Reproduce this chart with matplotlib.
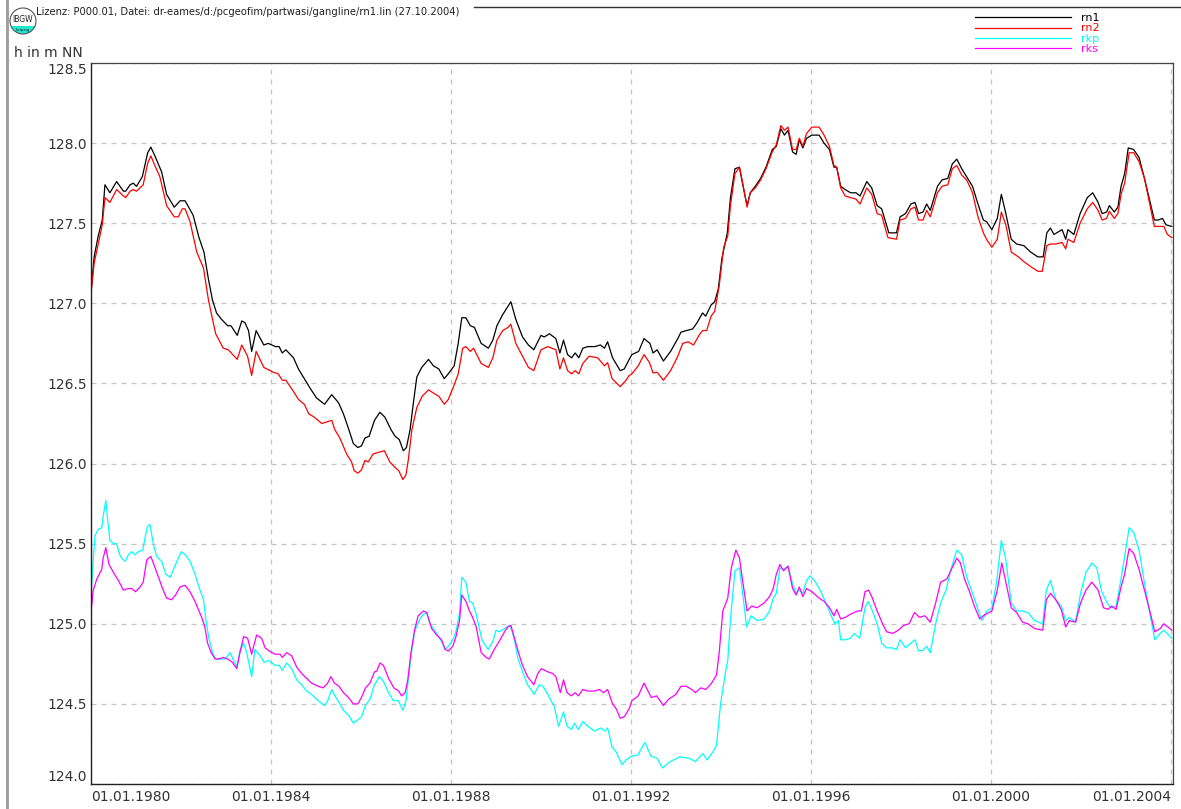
import matplotlib
matplotlib.use("Agg")
import matplotlib.pyplot as plt
from matplotlib.patches import Ellipse, Rectangle
from matplotlib.lines import Line2D

# ---------------- data ----------------
rn1_t = [1980.00, 1980.07, 1980.16, 1980.25, 1980.31, 1980.42, 1980.57, 1980.72, 1980.77, 1980.87,
         1980.94, 1981.01, 1981.14, 1981.26, 1981.33, 1981.42, 1981.57, 1981.68, 1981.85, 1981.98,
         1982.09, 1982.27, 1982.40, 1982.51, 1982.61, 1982.70, 1982.79, 1982.90, 1983.04, 1983.11,
         1983.25, 1983.35, 1983.42, 1983.50, 1983.57, 1983.67, 1983.84, 1983.94, 1984.10, 1984.18,
         1984.25, 1984.33, 1984.50, 1984.61, 1984.74, 1984.87, 1985.01, 1985.19, 1985.35, 1985.50,
         1985.61, 1985.72, 1985.83, 1985.93, 1986.01, 1986.09, 1986.18, 1986.30, 1986.42, 1986.53,
         1986.67, 1986.76, 1986.85, 1986.94, 1987.01, 1987.09, 1987.16, 1987.24, 1987.35, 1987.50,
         1987.61, 1987.73, 1987.85, 1987.94, 1988.07, 1988.16, 1988.24, 1988.33, 1988.43, 1988.52,
         1988.67, 1988.83, 1988.93, 1989.02, 1989.15, 1989.24, 1989.33, 1989.44, 1989.59, 1989.72,
         1989.84, 1990.00, 1990.07, 1990.19, 1990.33, 1990.42, 1990.50, 1990.59, 1990.68, 1990.76,
         1990.84, 1990.93, 1991.04, 1991.19, 1991.32, 1991.41, 1991.48, 1991.59, 1991.76, 1991.85,
         1991.96, 1992.02, 1992.17, 1992.29, 1992.42, 1992.49, 1992.58, 1992.72, 1992.88, 1993.04,
         1993.11, 1993.23, 1993.37, 1993.47, 1993.59, 1993.66, 1993.78, 1993.86, 1993.94, 1994.02,
         1994.14, 1994.21, 1994.31, 1994.41, 1994.49, 1994.58, 1994.65, 1994.76, 1994.88, 1995.00,
         1995.14, 1995.23, 1995.33, 1995.41, 1995.49, 1995.59, 1995.67, 1995.74, 1995.82, 1995.90,
         1996.02, 1996.18, 1996.29, 1996.41, 1996.51, 1996.57, 1996.66, 1996.76, 1996.88, 1997.00,
         1997.09, 1997.24, 1997.35, 1997.47, 1997.57, 1997.73, 1997.90, 1997.98, 1998.10, 1998.22,
         1998.31, 1998.39, 1998.49, 1998.57, 1998.65, 1998.81, 1998.91, 1999.04, 1999.14, 1999.24,
         1999.35, 1999.46, 1999.59, 1999.71, 1999.83, 1999.90, 2000.02, 2000.14, 2000.23, 2000.33,
         2000.45, 2000.57, 2000.73, 2000.88, 2001.04, 2001.16, 2001.24, 2001.32, 2001.40, 2001.58,
         2001.66, 2001.71, 2001.84, 2001.98, 2002.14, 2002.26, 2002.38, 2002.47, 2002.57, 2002.63,
         2002.74, 2002.82, 2002.89, 2002.97, 2003.05, 2003.17, 2003.29, 2003.41, 2003.52, 2003.63,
         2003.72, 2003.81, 2003.89, 2004.02]
rn1_v = [127.07, 127.29, 127.42, 127.52, 127.74, 127.69, 127.76, 127.70, 127.70, 127.74,
         127.75, 127.73, 127.79, 127.94, 127.975, 127.92, 127.82, 127.68, 127.60, 127.64,
         127.64, 127.55, 127.41, 127.32, 127.15, 127.02, 126.94, 126.90, 126.86, 126.86,
         126.80, 126.89, 126.88, 126.83, 126.70, 126.83, 126.74, 126.75, 126.73, 126.73,
         126.69, 126.71, 126.66, 126.59, 126.53, 126.47, 126.41, 126.37, 126.43, 126.38,
         126.31, 126.22, 126.125, 126.10, 126.11, 126.16, 126.17, 126.27, 126.32, 126.29,
         126.21, 126.17, 126.15, 126.08, 126.10, 126.21, 126.37, 126.54, 126.60, 126.65,
         126.61, 126.59, 126.53, 126.56, 126.61, 126.75, 126.91, 126.91, 126.86, 126.85,
         126.75, 126.72, 126.77, 126.86, 126.93, 126.97, 127.01, 126.90, 126.79, 126.74,
         126.71, 126.80, 126.79, 126.81, 126.78, 126.69, 126.77, 126.68, 126.66, 126.69,
         126.66, 126.72, 126.73, 126.73, 126.74, 126.72, 126.76, 126.66, 126.58, 126.59,
         126.65, 126.68, 126.70, 126.78, 126.75, 126.69, 126.71, 126.64, 126.70, 126.78,
         126.82, 126.83, 126.84, 126.88, 126.94, 126.92, 126.99, 127.01, 127.09, 127.28,
         127.44, 127.66, 127.84, 127.85, 127.73, 127.61, 127.69, 127.73, 127.78, 127.85,
         127.96, 127.98, 128.09, 128.05, 128.08, 127.945, 127.93, 128.02, 127.97, 128.03,
         128.05, 128.05, 128.00, 127.96, 127.85, 127.85, 127.73, 127.71, 127.69, 127.69,
         127.67, 127.76, 127.72, 127.61, 127.59, 127.44, 127.44, 127.54, 127.56, 127.62,
         127.63, 127.56, 127.57, 127.62, 127.58, 127.73, 127.77, 127.78, 127.87, 127.90,
         127.84, 127.79, 127.73, 127.62, 127.52, 127.51, 127.46, 127.53, 127.68, 127.56,
         127.40, 127.37, 127.36, 127.32, 127.29, 127.29, 127.44, 127.47, 127.43, 127.46,
         127.40, 127.46, 127.43, 127.56, 127.66, 127.69, 127.63, 127.56, 127.57, 127.61,
         127.57, 127.60, 127.73, 127.81, 127.97, 127.96, 127.91, 127.78, 127.65, 127.52,
         127.52, 127.53, 127.49, 127.48]

rn2_t = [1980.00, 1980.07, 1980.16, 1980.25, 1980.31, 1980.42, 1980.57, 1980.72, 1980.77, 1980.87,
         1980.94, 1981.01, 1981.16, 1981.26, 1981.33, 1981.42, 1981.53, 1981.68, 1981.85, 1981.94,
         1982.03, 1982.09, 1982.20, 1982.35, 1982.50, 1982.61, 1982.77, 1982.94, 1983.05, 1983.25,
         1983.35, 1983.48, 1983.57, 1983.67, 1983.84, 1984.05, 1984.16, 1984.25, 1984.33, 1984.50,
         1984.61, 1984.74, 1984.84, 1984.96, 1985.13, 1985.24, 1985.35, 1985.42, 1985.53, 1985.68,
         1985.79, 1985.85, 1985.93, 1986.01, 1986.09, 1986.16, 1986.27, 1986.39, 1986.52, 1986.64,
         1986.76, 1986.84, 1986.93, 1987.00, 1987.05, 1987.13, 1987.24, 1987.36, 1987.50, 1987.61,
         1987.73, 1987.85, 1987.94, 1988.07, 1988.16, 1988.26, 1988.33, 1988.43, 1988.50, 1988.67,
         1988.83, 1988.93, 1989.02, 1989.15, 1989.27, 1989.33, 1989.44, 1989.59, 1989.72, 1989.84,
         1990.00, 1990.15, 1990.33, 1990.42, 1990.50, 1990.59, 1990.68, 1990.76, 1990.84, 1990.93,
         1991.07, 1991.26, 1991.41, 1991.48, 1991.58, 1991.76, 1991.89, 1991.96, 1992.02, 1992.16,
         1992.29, 1992.41, 1992.49, 1992.58, 1992.72, 1992.88, 1993.04, 1993.15, 1993.27, 1993.39,
         1993.51, 1993.59, 1993.68, 1993.78, 1993.86, 1993.96, 1994.06, 1994.15, 1994.21, 1994.31,
         1994.41, 1994.49, 1994.58, 1994.65, 1994.76, 1994.88, 1995.00, 1995.14, 1995.23, 1995.33,
         1995.41, 1995.49, 1995.59, 1995.67, 1995.74, 1995.82, 1995.90, 1996.02, 1996.18, 1996.29,
         1996.41, 1996.51, 1996.57, 1996.66, 1996.76, 1996.88, 1997.00, 1997.09, 1997.24, 1997.35,
         1997.47, 1997.57, 1997.71, 1997.90, 1997.98, 1998.10, 1998.22, 1998.31, 1998.39, 1998.49,
         1998.57, 1998.65, 1998.81, 1998.91, 1999.04, 1999.14, 1999.24, 1999.35, 1999.46, 1999.59,
         1999.71, 1999.83, 1999.90, 2000.02, 2000.14, 2000.23, 2000.33, 2000.45, 2000.61, 2000.73,
         2000.88, 2001.04, 2001.14, 2001.24, 2001.32, 2001.44, 2001.58, 2001.66, 2001.71, 2001.84,
         2001.98, 2002.14, 2002.26, 2002.38, 2002.47, 2002.57, 2002.63, 2002.74, 2002.82, 2002.89,
         2002.97, 2003.07, 2003.17, 2003.29, 2003.41, 2003.52, 2003.63, 2003.72, 2003.84, 2003.92,
         2004.02]
rn2_v = [127.06, 127.25, 127.37, 127.49, 127.66, 127.63, 127.71, 127.67, 127.66, 127.70,
         127.71, 127.70, 127.74, 127.875, 127.92, 127.86, 127.79, 127.61, 127.54, 127.54,
         127.59, 127.59, 127.51, 127.32, 127.22, 127.02, 126.81, 126.72, 126.71, 126.65,
         126.74, 126.67, 126.55, 126.70, 126.60, 126.57, 126.56, 126.52, 126.52, 126.45,
         126.40, 126.37, 126.31, 126.29, 126.25, 126.26, 126.27, 126.21, 126.16, 126.06,
         126.01, 125.955, 125.94, 125.96, 126.02, 126.01, 126.06, 126.07, 126.08, 126.01,
         125.975, 125.955, 125.90, 125.93, 126.02, 126.21, 126.35, 126.42, 126.46, 126.44,
         126.42, 126.37, 126.40, 126.49, 126.56, 126.72, 126.73, 126.70, 126.72, 126.625,
         126.60, 126.66, 126.77, 126.83, 126.85, 126.87, 126.75, 126.67, 126.60, 126.58,
         126.71, 126.73, 126.71, 126.59, 126.66, 126.58, 126.56, 126.58, 126.56, 126.625,
         126.67, 126.66, 126.61, 126.63, 126.53, 126.48, 126.52, 126.55, 126.56, 126.61,
         126.68, 126.63, 126.565, 126.57, 126.52, 126.58, 126.67, 126.75, 126.76, 126.74,
         126.80, 126.83, 126.83, 126.92, 126.95, 127.11, 127.35, 127.42, 127.61, 127.81,
         127.85, 127.74, 127.60, 127.69, 127.72, 127.77, 127.84, 127.945, 127.99, 128.11,
         128.08, 128.10, 127.96, 127.96, 128.03, 127.98, 128.06, 128.10, 128.10, 128.05,
         127.98, 127.86, 127.85, 127.72, 127.67, 127.66, 127.65, 127.62, 127.72, 127.68,
         127.56, 127.55, 127.41, 127.40, 127.52, 127.53, 127.59, 127.60, 127.52, 127.52,
         127.58, 127.54, 127.69, 127.73, 127.74, 127.84, 127.86, 127.80, 127.77, 127.69,
         127.54, 127.44, 127.40, 127.35, 127.40, 127.57, 127.49, 127.32, 127.29, 127.26,
         127.23, 127.20, 127.20, 127.36, 127.37, 127.37, 127.38, 127.34, 127.40, 127.38,
         127.50, 127.59, 127.63, 127.58, 127.52, 127.53, 127.575, 127.53, 127.56, 127.68,
         127.75, 127.94, 127.94, 127.885, 127.78, 127.63, 127.48, 127.48, 127.48, 127.43,
         127.41]

rkp_t = [1980.00, 1980.04, 1980.09, 1980.16, 1980.24, 1980.27, 1980.33, 1980.37, 1980.42, 1980.50,
         1980.57, 1980.64, 1980.68, 1980.76, 1980.83, 1980.90, 1980.98, 1981.05, 1981.15, 1981.21,
         1981.26, 1981.31, 1981.39, 1981.46, 1981.57, 1981.66, 1981.76, 1981.85, 1981.94, 1982.01,
         1982.10, 1982.20, 1982.31, 1982.41, 1982.50, 1982.55, 1982.62, 1982.70, 1982.77, 1982.87,
         1982.98, 1983.09, 1983.19, 1983.24, 1983.31, 1983.39, 1983.46, 1983.57, 1983.64, 1983.76,
         1983.85, 1983.94, 1984.10, 1984.18, 1984.25, 1984.35, 1984.46, 1984.57, 1984.68, 1984.79,
         1984.90, 1985.05, 1985.19, 1985.26, 1985.35, 1985.42, 1985.51, 1985.61, 1985.72, 1985.83,
         1985.93, 1986.01, 1986.10, 1986.20, 1986.30, 1986.41, 1986.50, 1986.61, 1986.72, 1986.83,
         1986.93, 1987.00, 1987.05, 1987.13, 1987.20, 1987.31, 1987.39, 1987.46, 1987.53, 1987.61,
         1987.68, 1987.79, 1987.87, 1987.94, 1988.04, 1988.11, 1988.19, 1988.24, 1988.33, 1988.41,
         1988.48, 1988.56, 1988.63, 1988.70, 1988.83, 1988.93, 1989.00, 1989.07, 1989.19, 1989.32,
         1989.41, 1989.48, 1989.59, 1989.70, 1989.85, 1989.96, 1990.04, 1990.15, 1990.30, 1990.39,
         1990.50, 1990.58, 1990.68, 1990.74, 1990.83, 1990.93, 1991.04, 1991.19, 1991.33, 1991.42,
         1991.48, 1991.58, 1991.67, 1991.80, 1991.89, 1992.02, 1992.15, 1992.31, 1992.44, 1992.58,
         1992.70, 1992.87, 1993.09, 1993.30, 1993.43, 1993.60, 1993.69, 1993.82, 1993.90, 1993.99,
         1994.10, 1994.15, 1994.21, 1994.31, 1994.41, 1994.49, 1994.57, 1994.67, 1994.80, 1994.96,
         1995.08, 1995.16, 1995.23, 1995.31, 1995.39, 1995.49, 1995.59, 1995.67, 1995.74, 1995.82,
         1995.90, 1995.98, 1996.10, 1996.22, 1996.33, 1996.45, 1996.53, 1996.61, 1996.66, 1996.76,
         1996.88, 1996.96, 1997.08, 1997.20, 1997.27, 1997.35, 1997.47, 1997.57, 1997.67, 1997.79,
         1997.90, 1997.98, 1998.10, 1998.22, 1998.31, 1998.39, 1998.49, 1998.57, 1998.65, 1998.77,
         1998.88, 1999.00, 1999.12, 1999.24, 1999.35, 1999.46, 1999.59, 1999.71, 1999.80, 1999.91,
         2000.02, 2000.12, 2000.23, 2000.33, 2000.45, 2000.57, 2000.70, 2000.82, 2000.97, 2001.15,
         2001.23, 2001.32, 2001.44, 2001.56, 2001.66, 2001.74, 2001.88, 2001.99, 2002.11, 2002.24,
         2002.35, 2002.46, 2002.58, 2002.66, 2002.78, 2002.89, 2002.97, 2003.07, 2003.17, 2003.29,
         2003.40, 2003.52, 2003.64, 2003.76, 2003.84, 2004.02]
rkp_v = [125.18, 125.36, 125.55, 125.59, 125.60, 125.67, 125.77, 125.65, 125.52, 125.50,
         125.50, 125.43, 125.41, 125.39, 125.43, 125.45, 125.43, 125.45, 125.46, 125.55,
         125.61, 125.62, 125.49, 125.42, 125.39, 125.31, 125.29, 125.35, 125.41, 125.45,
         125.43, 125.39, 125.31, 125.22, 125.15, 125.03, 124.91, 124.82, 124.78, 124.78,
         124.78, 124.82, 124.76, 124.73, 124.83, 124.88, 124.82, 124.67, 124.84, 124.80,
         124.76, 124.77, 124.74, 124.74, 124.71, 124.755, 124.72, 124.65, 124.62, 124.58,
         124.56, 124.52, 124.49, 124.52, 124.59, 124.55, 124.51, 124.46, 124.43, 124.38,
         124.40, 124.42, 124.49, 124.53, 124.62, 124.67, 124.64, 124.57, 124.52, 124.52,
         124.46, 124.52, 124.65, 124.84, 124.96, 125.03, 125.06, 125.07, 125.00, 124.97,
         124.94, 124.89, 124.84, 124.86, 124.90, 124.95, 125.07, 125.29, 125.26, 125.14,
         125.13, 125.06, 124.97, 124.89, 124.84, 124.89, 124.96, 124.95, 124.97, 124.99,
         124.90, 124.79, 124.70, 124.62, 124.56, 124.62, 124.61, 124.56, 124.48, 124.36,
         124.45, 124.36, 124.34, 124.38, 124.34, 124.39, 124.36, 124.33, 124.35, 124.33,
         124.35, 124.23, 124.20, 124.12, 124.15, 124.175, 124.18, 124.26, 124.175, 124.16,
         124.10, 124.14, 124.17, 124.16, 124.14, 124.19, 124.15, 124.20, 124.24, 124.50,
         124.70, 124.77, 125.03, 125.33, 125.35, 125.17, 124.98, 125.05, 125.02, 125.03,
         125.08, 125.16, 125.19, 125.35, 125.34, 125.36, 125.25, 125.19, 125.21, 125.19,
         125.27, 125.30, 125.26, 125.20, 125.13, 125.05, 125.00, 125.02, 124.90, 124.90,
         124.91, 124.94, 124.91, 125.10, 125.14, 125.09, 125.00, 124.88, 124.85, 124.85,
         124.84, 124.90, 124.85, 124.88, 124.90, 124.83, 124.835, 124.86, 124.82, 125.00,
         125.13, 125.21, 125.35, 125.46, 125.43, 125.29, 125.19, 125.09, 125.02, 125.08,
         125.10, 125.25, 125.52, 125.40, 125.13, 125.08, 125.08, 125.07, 125.02, 125.00,
         125.21, 125.27, 125.15, 125.11, 125.02, 125.04, 125.01, 125.19, 125.32, 125.38,
         125.35, 125.20, 125.13, 125.10, 125.11, 125.28, 125.42, 125.60, 125.57, 125.46,
         125.27, 125.08, 124.90, 124.94, 124.96, 124.91]

rks_t = [1980.00, 1980.05, 1980.13, 1980.24, 1980.27, 1980.33, 1980.40, 1980.50, 1980.61, 1980.72,
         1980.83, 1980.90, 1980.99, 1981.09, 1981.16, 1981.24, 1981.33, 1981.41, 1981.50, 1981.59,
         1981.68, 1981.79, 1981.88, 1981.98, 1982.09, 1982.20, 1982.31, 1982.46, 1982.53, 1982.59,
         1982.67, 1982.76, 1982.84, 1982.94, 1983.04, 1983.14, 1983.24, 1983.31, 1983.39, 1983.48,
         1983.57, 1983.68, 1983.79, 1983.87, 1983.96, 1984.09, 1984.20, 1984.25, 1984.35, 1984.46,
         1984.57, 1984.68, 1984.79, 1984.90, 1985.05, 1985.16, 1985.26, 1985.33, 1985.41, 1985.51,
         1985.61, 1985.72, 1985.83, 1985.93, 1986.01, 1986.10, 1986.20, 1986.30, 1986.35, 1986.42,
         1986.50, 1986.61, 1986.73, 1986.84, 1986.90, 1986.98, 1987.04, 1987.11, 1987.19, 1987.27,
         1987.39, 1987.46, 1987.57, 1987.68, 1987.79, 1987.87, 1987.94, 1988.04, 1988.11, 1988.19,
         1988.24, 1988.33, 1988.41, 1988.48, 1988.56, 1988.67, 1988.78, 1988.85, 1988.96, 1989.07,
         1989.19, 1989.26, 1989.33, 1989.41, 1989.50, 1989.59, 1989.70, 1989.84, 1989.93, 1990.01,
         1990.15, 1990.26, 1990.33, 1990.43, 1990.50, 1990.58, 1990.67, 1990.76, 1990.83, 1990.93,
         1991.04, 1991.19, 1991.30, 1991.39, 1991.48, 1991.59, 1991.67, 1991.76, 1991.85, 1991.96,
         1992.02, 1992.16, 1992.29, 1992.45, 1992.57, 1992.72, 1992.84, 1993.00, 1993.11, 1993.23,
         1993.35, 1993.43, 1993.55, 1993.66, 1993.78, 1993.90, 1993.96, 1994.04, 1994.15, 1994.23,
         1994.33, 1994.41, 1994.49, 1994.58, 1994.68, 1994.80, 1994.96, 1995.08, 1995.16, 1995.23,
         1995.31, 1995.39, 1995.49, 1995.59, 1995.67, 1995.74, 1995.82, 1995.90, 1996.02, 1996.18,
         1996.29, 1996.41, 1996.51, 1996.57, 1996.66, 1996.76, 1996.88, 1997.04, 1997.12, 1997.20,
         1997.28, 1997.35, 1997.47, 1997.59, 1997.68, 1997.82, 1997.94, 1998.06, 1998.18, 1998.30,
         1998.41, 1998.53, 1998.65, 1998.77, 1998.88, 1999.02, 1999.12, 1999.24, 1999.32, 1999.41,
         1999.51, 1999.63, 1999.75, 1999.83, 1999.95, 2000.02, 2000.14, 2000.24, 2000.33, 2000.45,
         2000.57, 2000.70, 2000.82, 2000.97, 2001.15, 2001.23, 2001.32, 2001.44, 2001.56, 2001.66,
         2001.74, 2001.88, 2001.99, 2002.11, 2002.24, 2002.38, 2002.50, 2002.60, 2002.68, 2002.78,
         2002.89, 2002.97, 2003.07, 2003.17, 2003.29, 2003.40, 2003.52, 2003.64, 2003.76, 2003.84,
         2004.02]
rks_v = [125.07, 125.21, 125.28, 125.34, 125.41, 125.475, 125.37, 125.32, 125.27, 125.21,
         125.22, 125.22, 125.20, 125.23, 125.26, 125.40, 125.42, 125.36, 125.29, 125.22,
         125.16, 125.15, 125.18, 125.23, 125.24, 125.20, 125.14, 125.04, 124.98, 124.88,
         124.82, 124.78, 124.78, 124.79, 124.78, 124.76, 124.72, 124.82, 124.92, 124.91,
         124.81, 124.93, 124.91, 124.85, 124.83, 124.81, 124.81, 124.79, 124.82, 124.80,
         124.73, 124.69, 124.66, 124.63, 124.61, 124.60, 124.63, 124.67, 124.63, 124.61,
         124.57, 124.54, 124.50, 124.50, 124.54, 124.60, 124.63, 124.70, 124.705, 124.755,
         124.74, 124.66, 124.60, 124.58, 124.55, 124.57, 124.65, 124.82, 124.96, 125.05,
         125.08, 125.07, 124.97, 124.93, 124.90, 124.84, 124.83, 124.86, 124.92, 125.02,
         125.18, 125.14, 125.08, 125.04, 124.98, 124.82, 124.79, 124.78, 124.84, 124.89,
         124.95, 124.98, 124.99, 124.91, 124.82, 124.74, 124.67, 124.62, 124.69, 124.72,
         124.70, 124.69, 124.67, 124.57, 124.65, 124.57, 124.55, 124.57, 124.55, 124.59,
         124.58, 124.58, 124.59, 124.57, 124.59, 124.50, 124.47, 124.41, 124.42, 124.47,
         124.52, 124.55, 124.63, 124.54, 124.55, 124.49, 124.53, 124.56, 124.61, 124.61,
         124.59, 124.57, 124.60, 124.59, 124.625, 124.68, 124.82, 125.08, 125.16, 125.35,
         125.46, 125.41, 125.25, 125.08, 125.11, 125.10, 125.13, 125.17, 125.22, 125.31,
         125.37, 125.33, 125.36, 125.22, 125.18, 125.23, 125.17, 125.22, 125.20, 125.16,
         125.14, 125.10, 125.05, 125.09, 125.03, 125.04, 125.06, 125.08, 125.08, 125.20,
         125.21, 125.17, 125.08, 125.00, 124.95, 124.94, 124.96, 124.99, 125.00, 125.07,
         125.04, 125.05, 125.01, 125.13, 125.26, 125.28, 125.34, 125.41, 125.38, 125.28,
         125.21, 125.11, 125.03, 125.05, 125.07, 125.08, 125.21, 125.38, 125.26, 125.10,
         125.07, 125.01, 125.00, 124.97, 124.96, 125.15, 125.19, 125.15, 125.09, 124.98,
         125.02, 125.01, 125.13, 125.21, 125.26, 125.21, 125.10, 125.09, 125.11, 125.09,
         125.23, 125.31, 125.47, 125.44, 125.34, 125.22, 125.09, 124.95, 124.97, 125.00,
         124.96]

series_names = ["rn1", "rn2", "rkp", "rks"]
series_colors = ["#000000", "#ff0000", "#00ffff", "#ff00ff"]

x_tick_years = [1980, 1984, 1988, 1992, 1996, 2000, 2004]
x_tick_labels = ["01.01.1980", "01.01.1984", "01.01.1988", "01.01.1992",
                 "01.01.1996", "01.01.2000", "01.01.2004"]
y_ticks = [124.0, 124.5, 125.0, 125.5, 126.0, 126.5, 127.0, 127.5, 128.0, 128.5]
y_label = "h in m NN"
header = "Lizenz: P000.01, Datei: dr-eames/d:/pcgeofim/partwasi/gangline/rn1.lin (27.10.2004)"

# ---------------- figure ----------------
W, H = 1181, 809
fig = plt.figure(figsize=(W / 100, H / 100), dpi=100)
fig.patch.set_facecolor("white")

def fx(px):
    return px / W

def fy(py):
    return 1 - py / H

ax = fig.add_axes([fx(91), fy(784), fx(1173) - fx(91), fy(63) - fy(784)])

for t, v, c, n in zip([rn1_t, rn2_t, rkp_t, rks_t], [rn1_v, rn2_v, rkp_v, rks_v],
                      series_colors, series_names):
    ax.plot(t, v, color=c, lw=0.9, label=n)

ax.set_xlim(1980, 1980 + (1173 - 91) / 45)
ax.set_ylim(124.0, 128.5)
ax.set_xticks(x_tick_years)
ax.set_xticklabels(x_tick_labels)
ax.set_yticks(y_ticks)
ax.set_yticklabels([f"{v:.1f}" for v in y_ticks])
ax.tick_params(axis="both", length=0, labelsize=10, labelcolor="#333333")
ax.tick_params(axis="x", pad=4)
ax.tick_params(axis="y", pad=3)
xl = ax.get_xticklabels()
xl[0].set_ha("left")
xl[-1].set_ha("right")
yl = ax.get_yticklabels()
yl[0].set_va("bottom")
yl[-1].set_va("top")

ax.grid(True, color="#c4c4c4", linestyle=(0, (4, 4)), lw=0.9)
ax.set_axisbelow(True)
for s in ["left", "bottom"]:
    ax.spines[s].set_color("#222222")
    ax.spines[s].set_linewidth(1.0)
for s in ["top", "right"]:
    ax.spines[s].set_color("#444444")
    ax.spines[s].set_linewidth(0.9)

# legend
leg = ax.legend(loc="upper left", bbox_to_anchor=(fx(975), fy(13)), bbox_transform=fig.transFigure,
                frameon=False, fontsize=8, handlelength=8.6, handletextpad=0.9,
                labelspacing=0.03, borderaxespad=0, borderpad=0, handleheight=0.6)
for txt, c in zip(leg.get_texts(), series_colors):
    txt.set_color(c)

# y-axis label and header
fig.text(fx(14), fy(53), y_label, fontsize=10, color="#333333", va="center", ha="left")
fig.text(fx(36), fy(12), header, fontsize=7.2, color="#222222", va="center", ha="left")

# frame lines
fig.add_artist(Line2D([fx(7), fx(7)], [0, 1], color="#9a9a9a", lw=2))
fig.add_artist(Line2D([fx(474), 1], [fy(7), fy(7)], color="#333333", lw=1))

# logo
cx, cy, r = 23, 21, 13
logo_bg = Ellipse((fx(cx), fy(cy)), 2 * r / W, 2 * r / H, facecolor="#20e8d0",
                  edgecolor="none", transform=fig.transFigure)
fig.add_artist(logo_bg)
top = Rectangle((fx(cx - r), fy(cy + 5)), 2 * r / W, (r + 10) / H, facecolor="white",
                edgecolor="none", transform=fig.transFigure)
top.set_clip_path(logo_bg)
fig.add_artist(top)
ring = Ellipse((fx(cx), fy(cy)), 2 * r / W, 2 * r / H, facecolor="none",
               edgecolor="#555555", lw=0.8, transform=fig.transFigure)
fig.add_artist(ring)
fig.text(fx(cx), fy(cy - 2), "IBGW", fontsize=5.5, ha="center", va="center", color="#222222")
fig.text(fx(cx), fy(cy + 9), "Leipzig", fontsize=3, ha="center", va="center", color="#222222")

fig.savefig("out.png", dpi=100, facecolor="white")
